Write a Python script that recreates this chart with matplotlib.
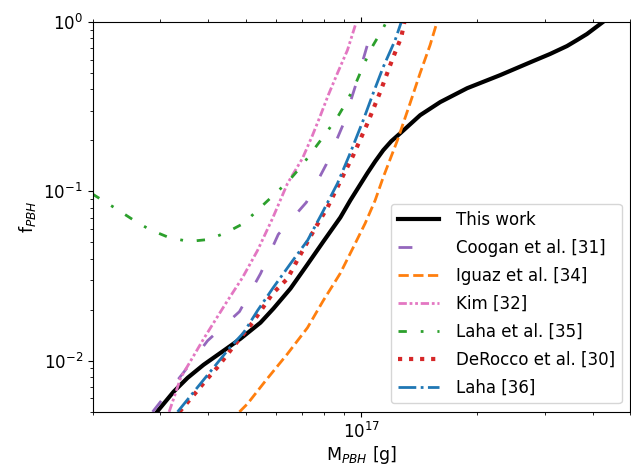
import numpy as np
import matplotlib
matplotlib.use("Agg")
import matplotlib.pyplot as plt

# log10(M [g]) et log10(f_PBH)
this_work_logm = [16.4675, 16.4727, 16.5117, 16.5481, 16.5896, 16.6416, 16.6857, 16.7377, 16.7714,
                  16.8156, 16.8597, 16.9013, 16.9455, 16.9714, 17.0156, 17.0364, 17.0571, 17.0779,
                  17.1013, 17.1532, 17.2052, 17.2753, 17.3610, 17.4468, 17.4909, 17.5351, 17.5610,
                  17.5870, 17.6286]
this_work_logf = [-2.306, -2.290, -2.183, -2.101, -2.024, -1.941, -1.870, -1.775, -1.692,
                  -1.574, -1.432, -1.296, -1.154, -1.053, -0.893, -0.822, -0.757, -0.704,
                  -0.657, -0.550, -0.473, -0.391, -0.314, -0.231, -0.189, -0.142, -0.107,
                  -0.071, 0.0]

coogan_logm = [16.457, 16.535, 16.600, 16.683, 16.738, 16.784, 16.857, 16.909, 16.953, 16.987, 17.018, 17.029]
coogan_logf = [-2.302, -2.077, -1.882, -1.710, -1.485, -1.254, -1.065, -0.840, -0.604, -0.361, -0.118, 0.0]

iguaz_logm = [16.683, 16.704, 16.751, 16.808, 16.860, 16.901, 16.945, 16.979, 17.010, 17.036,
              17.057, 17.094, 17.127, 17.153, 17.179, 17.197]
iguaz_logf = [-2.302, -2.254, -2.118, -1.959, -1.805, -1.645, -1.485, -1.331, -1.189, -1.053,
              -0.917, -0.698, -0.479, -0.302, -0.136, 0.0]

kim_logm = [16.500, 16.517, 16.530, 16.590, 16.647, 16.691, 16.730, 16.769, 16.808, 16.847,
            16.873, 16.894, 16.914, 16.938, 16.964, 16.987]
kim_logf = [-2.302, -2.189, -2.101, -1.870, -1.663, -1.509, -1.349, -1.160, -0.953, -0.805,
            -0.669, -0.550, -0.432, -0.302, -0.166, 0.0]

laha_al_logm = [16.300, 16.361, 16.405, 16.449, 16.499, 16.551, 16.603, 16.649, 16.694, 16.732,
                16.771, 16.810, 16.844, 16.875, 16.906, 16.938, 16.964, 16.987, 17.008, 17.031,
                17.057, 17.065]
laha_al_logf = [-1.015, -1.101, -1.166, -1.225, -1.272, -1.296, -1.284, -1.243, -1.189, -1.107,
                -1.024, -0.941, -0.852, -0.757, -0.663, -0.562, -0.462, -0.355, -0.243, -0.136,
                -0.036, 0.0]

derocco_logm = [16.527, 16.569, 16.595, 16.629, 16.665, 16.719, 16.769, 16.808, 16.836, 16.881,
                16.912, 16.953, 16.979, 17.016, 17.049, 17.081, 17.104, 17.112]
derocco_logf = [-2.302, -2.189, -2.118, -2.030, -1.923, -1.769, -1.604, -1.515, -1.396, -1.213,
                -1.095, -0.905, -0.787, -0.598, -0.414, -0.219, -0.089, 0.0]

laha_logm = [16.522, 16.556, 16.590, 16.626, 16.660, 16.694, 16.730, 16.771, 16.816, 16.860,
             16.899, 16.938, 16.971, 17.005, 17.031, 17.057, 17.088, 17.104]
laha_logf = [-2.302, -2.207, -2.112, -2.012, -1.917, -1.834, -1.704, -1.568, -1.426, -1.290,
             -1.124, -0.953, -0.775, -0.580, -0.420, -0.266, -0.107, 0.0]

fig = plt.figure(figsize=(6.31, 4.66), dpi=100)
ax = fig.add_axes([0.1468, 0.1165, 0.8516, 0.8363])

def tracer(logm, logf, **kw):
    ax.plot(10 ** np.array(logm), 10 ** np.array(logf), **kw)

tracer(this_work_logm, this_work_logf, color='black', lw=3, label='This work')
tracer(coogan_logm, coogan_logf, color='tab:purple', lw=2, ls=(0, (5, 10)), label='Coogan et al. [31]')
tracer(iguaz_logm, iguaz_logf, color='tab:orange', lw=2, ls='--', label='Iguaz et al. [34]')
tracer(kim_logm, kim_logf, color='tab:pink', lw=2, ls=(0, (3, 1, 1, 1, 1, 1)), label='Kim [32]')
tracer(laha_al_logm, laha_al_logf, color='tab:green', lw=2, ls=(0, (3, 5, 1, 5)), label='Laha et al. [35]')
tracer(derocco_logm, derocco_logf, color='tab:red', lw=3, ls=':', label='DeRocco et al. [30]')
tracer(laha_logm, laha_logf, color='tab:blue', lw=2, ls='-.', label='Laha [36]')

ax.set_xscale('log')
ax.set_yscale('log')
ax.set_xlim(2e16, 5e17)
ax.set_ylim(5e-3, 1)
ax.tick_params(which='both', top=True, right=True, labelsize=12)
ax.set_xlabel(r'M$_{PBH}$ [g]', fontsize=12.5, labelpad=2)
ax.set_ylabel(r'f$_{PBH}$', fontsize=12.5)
ax.legend(loc='lower right', fontsize=12, handlelength=2.5, handletextpad=1.0, labelspacing=0.6)

fig.savefig('out.png', dpi=100)
